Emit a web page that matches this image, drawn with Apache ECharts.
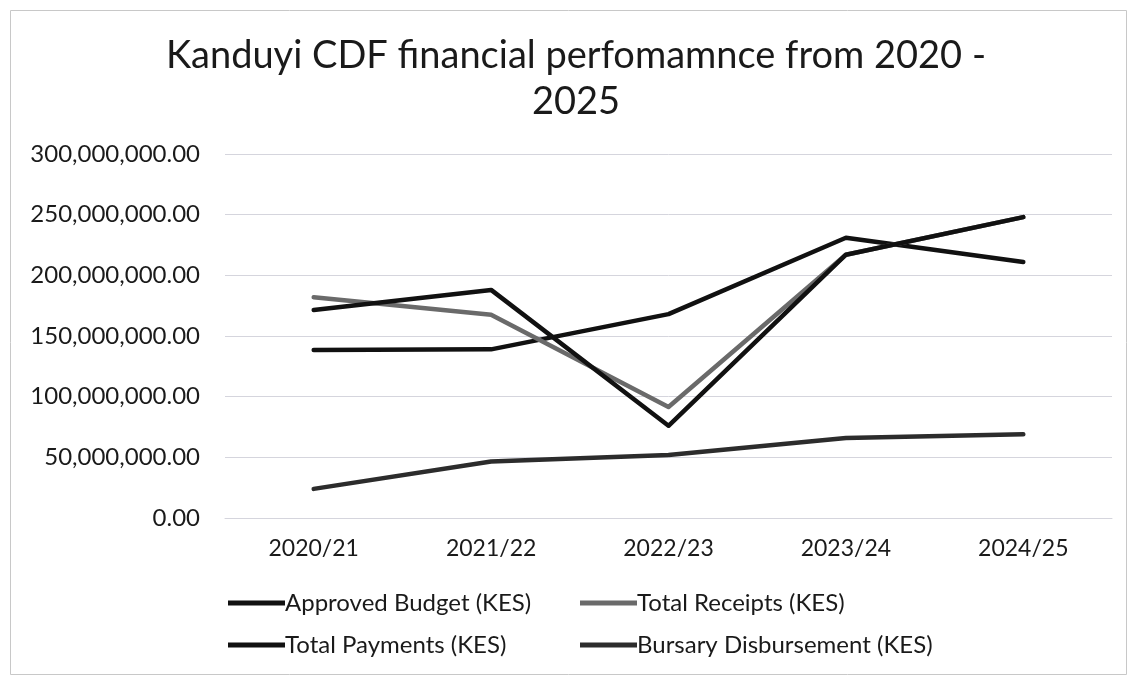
<!DOCTYPE html>
<html>
<head>
<meta charset="utf-8">
<script src="https://cdn.jsdelivr.net/npm/echarts@6/dist/echarts.min.js"></script>
<style>
html,body{margin:0;padding:0;background:#fff;}
#chart{width:1130px;height:681px;}
</style>
</head>
<body>
<div id="chart"></div>
<script>
const categories = ['2020/21', '2021/22', '2022/23', '2023/24', '2024/25'];
const approvedBudget = [138500000, 139000000, 168000000, 231000000, 211000000];
const totalReceipts = [182000000, 167500000, 91500000, 217000000, 248000000];
const totalPayments = [171500000, 188000000, 76000000, 217000000, 248000000];
const bursaryDisbursement = [24000000, 46500000, 52000000, 66000000, 69000000];
const seriesNames = ['Approved Budget (KES)', 'Total Receipts (KES)', 'Total Payments (KES)', 'Bursary Disbursement (KES)'];
const titleText = 'Kanduyi CDF financial perfomamnce from 2020 -\n2025';

const FONT = 'Lato';
const colors = ['#111111', '#6a6a6a', '#111111', '#2c2c2c'];
const seriesData = [approvedBudget, totalReceipts, totalPayments, bursaryDisbursement];

function legendAt(name, left, top) {
  return {
    data: [name], left: left, top: top, padding: 0, icon: 'rect',
    itemWidth: 57, itemHeight: 5, itemGap: 0,
    textStyle: { fontFamily: FONT, fontSize: 24, color: '#1a1a1a', padding: [0, 0, 0, -5] }
  };
}

const chart = echarts.init(document.getElementById('chart'));
chart.setOption({
  backgroundColor: '#ffffff',
  animation: false,
  color: colors,
  graphic: [{
    type: 'rect', left: 8, top: 8, shape: { width: 1116, height: 664 },
    style: { fill: 'none', stroke: '#c8c8c8', lineWidth: 1 }, silent: true
  }, {
    type: 'text', x: 576, y: 33, silent: true,
    style: {
      text: titleText, align: 'center', verticalAlign: 'top',
      fontFamily: FONT, fontSize: 38, fontWeight: 'normal', fill: '#1a1a1a', lineHeight: 46
    }
  }],
  legend: [
    legendAt(seriesNames[0], 228, 591),
    legendAt(seriesNames[1], 580, 591),
    legendAt(seriesNames[2], 228, 633),
    legendAt(seriesNames[3], 580, 633)
  ],
  grid: { left: 225, right: 18, top: 154, bottom: 163, containLabel: false },
  xAxis: {
    type: 'category', data: categories, boundaryGap: true,
    axisLine: { show: true, lineStyle: { color: '#d5d5dd', width: 1 } },
    axisTick: { show: false },
    axisLabel: { fontFamily: FONT, fontSize: 23, color: '#1a1a1a', margin: 19 }
  },
  yAxis: {
    type: 'value', min: 0, max: 300000000, interval: 50000000,
    axisLine: { show: false }, axisTick: { show: false },
    splitLine: { lineStyle: { color: '#d5d5dd', width: 1 } },
    axisLabel: {
      fontFamily: FONT, fontSize: 24, color: '#1a1a1a', margin: 25,
      formatter: v => v.toLocaleString('en-US', { minimumFractionDigits: 2, maximumFractionDigits: 2 })
    }
  },
  series: seriesNames.map((n, i) => ({
    name: n, type: 'line', data: seriesData[i], showSymbol: false, symbol: 'none',
    lineStyle: { width: 4.5, color: colors[i], cap: 'round', join: 'round' },
    itemStyle: { color: colors[i] }, z: 2 + i
  }))
});
</script>
</body>
</html>
